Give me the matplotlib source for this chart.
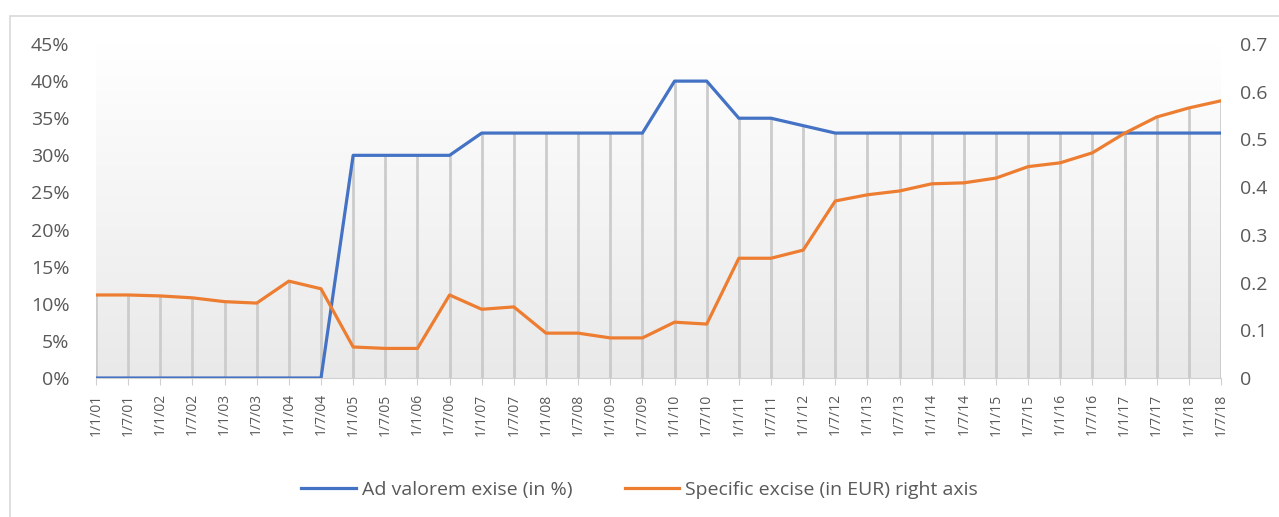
import numpy as np
import matplotlib
matplotlib.use('Agg')
import matplotlib.pyplot as plt
from matplotlib.colors import LinearSegmentedColormap
from matplotlib.patches import Rectangle
from matplotlib.ticker import FuncFormatter

plt.rcParams['font.family'] = ['Open Sans', 'DejaVu Sans']

# half-year dates, 2001 - 2018
dates = [f'1/{m}/{y:02d}' for y in range(1, 19) for m in (1, 7)]

# ad valorem excise, share
ad_valorem = [0, 0, 0, 0, 0, 0, 0, 0,
              0.30, 0.30, 0.30, 0.30,
              0.33, 0.33, 0.33, 0.33, 0.33, 0.33,
              0.40, 0.40,
              0.35, 0.35, 0.34,
              0.33, 0.33, 0.33, 0.33, 0.33, 0.33, 0.33, 0.33, 0.33, 0.33, 0.33, 0.33, 0.33]

# specific excise, EUR
specific = [0.174, 0.174, 0.172, 0.168, 0.160, 0.157, 0.203, 0.187,
            0.065, 0.062, 0.062, 0.174, 0.144, 0.149, 0.094, 0.094,
            0.084, 0.084, 0.117, 0.113, 0.251, 0.251, 0.268, 0.371,
            0.384, 0.392, 0.407, 0.409, 0.419, 0.443, 0.451, 0.472,
            0.513, 0.547, 0.566, 0.581]

BLUE = '#4472C4'
ORANGE = '#ED7D31'
TXT = '#595959'

W, H = 1279, 517
fig = plt.figure(figsize=(W / 100, H / 100), dpi=100)
ax = fig.add_axes([96 / W, 1 - 378 / H, (1221 - 96) / W, (378 - 44) / H])
ax2 = ax.twinx()

x = np.arange(len(dates))

# plot area gradient
cmap = LinearSegmentedColormap.from_list('bg', ['#ffffff', '#e9e9e9'])
grad = np.linspace(0, 1, 256).reshape(-1, 1)
ax.imshow(grad, extent=[-0.2, len(dates) - 0.8, 0, 0.45], aspect='auto',
          cmap=cmap, origin='upper', zorder=0)
ax.set_xlim(0, len(dates) - 1)
ax.set_ylim(0, 0.45)
ax2.set_ylim(0, 0.7)

# drop lines
ax.vlines(x, 0, ad_valorem, color='#cccccc', lw=2, zorder=1)
ax.vlines(x, 0, specific, color='#cccccc', lw=2, zorder=1, transform=ax2.transData)

ax2.plot(x, ad_valorem, color=BLUE, lw=2.3, transform=ax.transData,
         label='Ad valorem exise (in %)', zorder=3)
ax2.plot(x, specific, color=ORANGE, lw=2.3,
         label='Specific excise (in EUR) right axis', zorder=3)

ax.set_yticks(np.arange(0, 0.46, 0.05))
ax.yaxis.set_major_formatter(FuncFormatter(lambda v, p: f'{v * 100:.0f}%'))
ax2.set_yticks(np.arange(0, 0.71, 0.1))
ax2.yaxis.set_major_formatter(FuncFormatter(lambda v, p: '0' if v == 0 else f'{v:.1f}'))

ax.set_xticks(x)
ax.set_xticklabels(dates, rotation=90, fontsize=10, color=TXT)
ax.tick_params(axis='x', length=5, color='#d0d0d0', pad=6)
ax.tick_params(axis='y', length=0, labelsize=14, labelcolor=TXT, pad=19)
ax2.tick_params(axis='y', length=0, labelsize=14, labelcolor=TXT, pad=14)

for a in (ax, ax2):
    for s in ('top', 'left', 'right'):
        a.spines[s].set_visible(False)
ax.spines['bottom'].set_color('#d0d0d0')
ax2.spines['bottom'].set_visible(False)

fig.legend(loc='center', bbox_to_anchor=(0.5, 1 - 490 / H), ncol=2, frameon=False,
           fontsize=14, handlelength=2.8, handletextpad=0.3, columnspacing=2.7,
           labelcolor=TXT)

# chart border
fig.patches.append(Rectangle((10 / W, -0.1), 1.2, 1 - 16 / H + 0.1, fill=False,
                             edgecolor='#d9d9d9', lw=1.2, transform=fig.transFigure))

fig.savefig('out.png', dpi=100)
